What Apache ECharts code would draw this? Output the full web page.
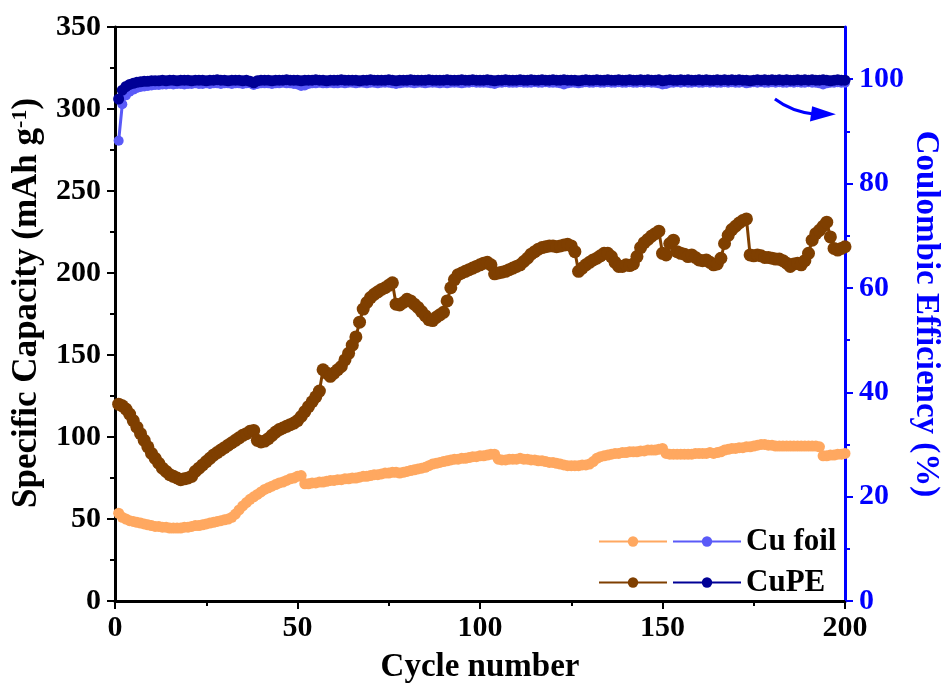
<!DOCTYPE html>
<html>
<head>
<meta charset="utf-8">
<script src="https://cdn.jsdelivr.net/npm/echarts@6/dist/echarts.min.js"></script>
<style>
  html, body { margin: 0; padding: 0; background: #ffffff; }
  #chart { width: 945px; height: 685px; }
</style>
</head>
<body>
<div id="chart"></div>
<script>
// Axis ticks
const xTicks = [0, 50, 100, 150, 200];
const capTicks = [0, 50, 100, 150, 200, 250, 300, 350];
const ceTicks = [0, 20, 40, 60, 80, 100];

// Specific capacity (mAh g-1), cycles 1..200
const cuFoilCapacity = [
  53.5, 51, 50, 49, 48.5, 48, 47.5, 47, 46.5, 46,
  45.5, 45.5, 45, 45, 44.5, 44.5, 44.5, 44.5, 45, 45,
  45.5, 46, 46, 46.5, 47, 47.5, 48, 48.5, 49, 49.5,
  50, 51, 53, 55.5, 58, 60, 62, 63.5, 65, 66.5,
  68, 69, 70, 71, 72, 72.5, 73.5, 74.5, 75, 76,
  76.5, 71.5, 71.5, 72, 72, 72.5, 72.5, 73, 73.5, 73.5,
  74, 74, 74.5, 74.5, 75, 75, 75.5, 76, 76, 76.5,
  77, 77, 77.5, 78, 78, 78.5, 78.5, 78, 78.5, 79,
  79.5, 80, 80.5, 81, 81.5, 82.5, 83.5, 84, 84.5, 85,
  85.5, 86, 86.5, 86.5, 87, 87, 87.5, 88, 88, 88.5,
  88.5, 89, 89.5, 89.5, 86.5, 86, 86, 86.5, 86.5, 86.5,
  87, 86.5, 86.5, 86, 86, 85.5, 85.5, 85, 84.5, 84.5,
  84, 83.5, 83, 82.5, 82.5, 82.5, 82.5, 83, 83, 83.5,
  85, 87, 88, 88.5, 89, 89.5, 90, 90, 90.5, 90.5,
  91, 91, 91, 91.5, 91.5, 92, 92, 92, 92.5, 93,
  90, 89.5, 89.5, 89.5, 89.5, 89.5, 89.5, 89.5, 90, 90,
  90, 90, 90.5, 90, 90.5, 91, 92, 92.5, 93, 93,
  93.5, 93.5, 94, 94, 94.5, 95, 95.5, 95.5, 95, 95,
  94.5, 94.5, 94.5, 94.5, 94.5, 94.5, 94.5, 94.5, 94.5, 94.5,
  94.5, 94.5, 94, 88.5, 88.5, 89, 89, 89.5, 89.5, 90
];

const cupeCapacity = [
  120, 119, 117, 114, 110, 106, 102, 98, 94, 90,
  87, 84, 81, 79, 77, 76, 75, 74, 74.5, 75,
  76, 79, 81, 83, 85, 87, 89, 90.5, 92, 93.5,
  95, 96.5, 98, 99.5, 101, 102, 103.5, 104, 98, 97,
  97.5, 99, 101, 103, 104.5, 105.5, 106.5, 107.5, 108.5, 110,
  112.5, 115.5, 118.5, 121.5, 124.5, 128, 141, 139, 137, 139,
  141, 143, 147, 151, 156, 161, 170, 178, 182, 185,
  187, 188.5, 190, 191, 192.5, 194, 181, 180.5, 182, 184,
  183, 181, 179, 176.5, 174, 171.5, 171, 173, 174.5, 176,
  183, 191, 196, 199, 200, 201, 202, 203, 204, 205,
  206, 206.5, 205, 199.5, 200, 200.5, 201, 202, 203, 204,
  205, 207, 209, 211.5, 213, 214.5, 215.5, 216, 216.5, 216.5,
  216, 216.5, 217, 217.5, 216.5, 213, 201, 203, 205, 206.5,
  208, 209, 210.5, 212, 212, 210, 206.5, 204, 204, 205,
  204.5, 205.5, 210, 215.5, 218.5, 220.5, 222.5, 224, 225.5, 212,
  211, 218, 220, 213, 212, 211.5, 210, 211, 209.5, 208,
  207.5, 208, 206.5, 205, 205.5, 209, 218, 223, 226.5, 228.5,
  230.5, 232, 233, 211, 210.5, 211, 210.5, 209.5, 209.5, 209,
  208.5, 208.5, 207.5, 206, 204, 205.5, 206, 205, 207.5, 212,
  220, 224, 226, 228.5, 231, 222, 215, 214, 215, 216
];

// Coulombic efficiency (%), cycles 1..200
const cuFoilCE = [
  88.2, 95.2, 96.9, 97.6, 98.0, 98.3, 98.5, 98.6, 98.7, 98.8,
  98.9, 98.9, 99.0, 99.0, 99.1, 99.0, 99.1, 99.1, 99.0, 99.1,
  99.1, 99.2, 99.1, 99.1, 99.2, 99.1, 99.2, 99.2, 99.1, 99.2,
  99.2, 99.1, 99.2, 99.2, 99.1, 99.2, 99.2, 98.9, 99.1, 99.2,
  99.2, 99.2, 99.1, 99.2, 99.2, 99.3, 99.2, 99.2, 99.1, 99.0,
  98.7, 98.8, 99.1, 99.2, 99.2, 99.3, 99.2, 99.2, 99.3, 99.2,
  99.2, 99.3, 99.2, 99.3, 99.3, 99.2, 99.3, 99.3, 99.2, 99.3,
  99.3, 99.2, 99.3, 99.3, 99.3, 99.2, 99.1, 99.2, 99.3, 99.3,
  99.3, 99.2, 99.3, 99.3, 99.2, 99.3, 99.3, 99.3, 99.2, 99.3,
  99.2, 99.3, 99.3, 99.3, 99.2, 99.3, 99.3, 99.4, 99.3, 99.3,
  99.3, 99.3, 99.2, 99.1, 99.3, 99.3, 99.4, 99.3, 99.3, 99.3,
  99.4, 99.3, 99.3, 99.3, 99.4, 99.3, 99.3, 99.4, 99.3, 99.3,
  99.3, 99.2, 99.0, 99.2, 99.3, 99.3, 99.2, 99.3, 99.4, 99.3,
  99.3, 99.4, 99.3, 99.3, 99.4, 99.3, 99.3, 99.4, 99.3, 99.3,
  99.4, 99.3, 99.3, 99.4, 99.3, 99.4, 99.3, 99.3, 99.2, 99.0,
  99.1, 99.3, 99.3, 99.4, 99.3, 99.4, 99.3, 99.3, 99.4, 99.3,
  99.3, 99.4, 99.3, 99.4, 99.3, 99.3, 99.4, 99.3, 99.4, 99.3,
  99.3, 99.4, 99.2, 99.3, 99.4, 99.3, 99.4, 99.3, 99.3, 99.4,
  99.3, 99.4, 99.3, 99.3, 99.4, 99.3, 99.4, 99.3, 99.3, 99.4,
  99.3, 99.3, 99.2, 99.0, 99.2, 99.3, 99.3, 99.4, 99.3, 99.3
];

const cupeCE = [
  96.2, 97.9, 98.6, 99.0, 99.2, 99.4, 99.5, 99.6, 99.6, 99.7,
  99.7, 99.7, 99.8, 99.7, 99.8, 99.8, 99.7, 99.8, 99.8, 99.8,
  99.7, 99.8, 99.8, 99.8, 99.7, 99.8, 99.8, 99.9, 99.8, 99.8,
  99.7, 99.8, 99.8, 99.8, 99.7, 99.8, 99.6, 99.3, 99.7, 99.8,
  99.8, 99.8, 99.7, 99.8, 99.8, 99.8, 99.9, 99.8, 99.8, 99.8,
  99.7, 99.8, 99.8, 99.8, 99.9, 99.8, 99.8, 99.7, 99.8, 99.8,
  99.8, 99.9, 99.8, 99.8, 99.8, 99.8, 99.7, 99.8, 99.8, 99.9,
  99.8, 99.8, 99.8, 99.8, 99.9, 99.8, 99.7, 99.8, 99.8, 99.8,
  99.9, 99.8, 99.8, 99.8, 99.8, 99.9, 99.8, 99.8, 99.8, 99.8,
  99.9, 99.8, 99.8, 99.8, 99.9, 99.8, 99.8, 99.9, 99.8, 99.8,
  99.8, 99.9, 99.8, 99.7, 99.8, 99.8, 99.9, 99.8, 99.8, 99.8,
  99.9, 99.8, 99.8, 99.9, 99.8, 99.8, 99.9, 99.8, 99.8, 99.9,
  99.8, 99.8, 99.9, 99.8, 99.8, 99.8, 99.7, 99.8, 99.9, 99.8,
  99.8, 99.9, 99.8, 99.8, 99.9, 99.8, 99.8, 99.9, 99.8, 99.8,
  99.9, 99.8, 99.8, 99.9, 99.8, 99.9, 99.8, 99.8, 99.9, 99.7,
  99.8, 99.9, 99.8, 99.8, 99.9, 99.8, 99.9, 99.8, 99.8, 99.9,
  99.8, 99.9, 99.8, 99.8, 99.9, 99.8, 99.9, 99.8, 99.9, 99.8,
  99.9, 99.8, 99.8, 99.7, 99.8, 99.9, 99.8, 99.9, 99.8, 99.9,
  99.8, 99.9, 99.8, 99.9, 99.8, 99.8, 99.9, 99.8, 99.9, 99.8,
  99.9, 99.8, 99.8, 99.9, 99.8, 99.7, 99.8, 99.9, 99.8, 99.8
];

// Curved arrow pointing from the efficiency curves to the right-hand axis, in [cycle, CE %]
const arrowShaft = [[180.8, 96.2], [185.5, 93.7], [191.8, 93.3]];
const arrowHead = [[191.0, 94.8], [197.5, 93.3], [190.4, 91.9]];

const FONT = '"Liberation Serif", "Times New Roman", serif';
const BLUE = '#0000FF';
const COLORS = {
  cuFoilCap: '#FFA860',
  cupeCap: '#7F3F00',
  cuFoilCE: '#5A5AF8',
  cupeCE: '#000096'
};

const pairs = vals => vals.map((v, i) => [i + 1, v]);

function lineSeries(name, values, color, yIndex, size, z) {
  return {
    name: name,
    type: 'line',
    yAxisIndex: yIndex,
    data: pairs(values),
    symbol: 'circle',
    symbolSize: size,
    showSymbol: true,
    showAllSymbol: true,
    itemStyle: { color: color },
    lineStyle: { color: color, width: 3 },
    z: z,
    animation: false
  };
}

const chart = echarts.init(document.getElementById('chart'), null, { renderer: 'canvas' });

const option = {
  backgroundColor: '#ffffff',
  animation: false,
  textStyle: { fontFamily: FONT },
  grid: {
    left: 115, right: 100, top: 27, bottom: 84,
    containLabel: false,
    outerBoundsMode: 'none',
    show: true, borderColor: '#000', borderWidth: 2, backgroundColor: 'transparent'
  },
  xAxis: {
    type: 'value',
    min: xTicks[0], max: xTicks[xTicks.length - 1], interval: 50,
    name: 'Cycle number',
    nameLocation: 'middle',
    nameGap: 50,
    nameTextStyle: { fontFamily: FONT, fontWeight: 'bold', fontSize: 33, color: '#000' },
    axisLine: { show: true, onZero: false, lineStyle: { color: '#000', width: 3 } },
    axisTick: { show: true, inside: false, length: 8, lineStyle: { color: '#000', width: 2 } },
    minorTick: { show: true, splitNumber: 2, length: 5, lineStyle: { color: '#000', width: 2 } },
    axisLabel: { fontFamily: FONT, fontWeight: 'bold', fontSize: 30, color: '#000', margin: 12 },
    splitLine: { show: false }
  },
  yAxis: [
    {
      type: 'value',
      position: 'left',
      min: capTicks[0], max: capTicks[capTicks.length - 1], interval: 50,
      name: 'Specific Capacity (mAh g{sup|-1})',
      nameLocation: 'middle',
      nameGap: 66,
      nameTextStyle: {
        fontFamily: FONT, fontWeight: 'bold', fontSize: 35, color: '#000',
        padding: [0, 0, 0, 22],
        rich: {
          sup: { fontFamily: FONT, fontWeight: 'bold', fontSize: 22, color: '#000', verticalAlign: 'top', lineHeight: 23, padding: [0, 0, 14, 0] }
        }
      },
      axisLine: { show: true, onZero: false, lineStyle: { color: '#000', width: 3 } },
      axisTick: { show: true, inside: false, length: 8, lineStyle: { color: '#000', width: 2 } },
      minorTick: { show: true, splitNumber: 2, length: 5, lineStyle: { color: '#000', width: 2 } },
      axisLabel: { fontFamily: FONT, fontWeight: 'bold', fontSize: 30, color: '#000', margin: 14 },
      splitLine: { show: false }
    },
    {
      type: 'value',
      position: 'right',
      min: 0, max: 110, interval: 20,
      name: 'Coulombic Efficiency (%)',
      nameLocation: 'middle',
      nameGap: 64,
      nameRotate: -90,
      nameMoveOverlap: false,
      nameTextStyle: { fontFamily: FONT, fontWeight: 'bold', fontSize: 33, color: BLUE },
      axisLine: { show: true, onZero: false, lineStyle: { color: BLUE, width: 3 } },
      axisTick: { show: true, inside: false, length: 8, customValues: ceTicks, lineStyle: { color: BLUE, width: 2 } },
      minorTick: { show: true, splitNumber: 2, length: 5, lineStyle: { color: BLUE, width: 2 } },
      axisLabel: { fontFamily: FONT, fontWeight: 'bold', fontSize: 30, color: BLUE, margin: 14, customValues: ceTicks },
      splitLine: { show: false }
    }
  ],
  legend: [
    {
      orient: 'vertical',
      left: 598, top: 526, padding: 0,
      itemWidth: 68, itemHeight: 13, itemGap: 10,
      selectedMode: false,
      data: ['Cu foil capacity', 'CuPE capacity'],
      formatter: () => ' ',
      textStyle: { fontFamily: FONT, fontWeight: 'bold', fontSize: 31, lineHeight: 30, color: '#000' }
    },
    {
      orient: 'vertical',
      left: 672, top: 526, padding: 0,
      itemWidth: 68, itemHeight: 13, itemGap: 10,
      selectedMode: false,
      data: ['Cu foil CE', 'CuPE CE'],
      formatter: name => name.replace(' CE', ''),
      textStyle: { fontFamily: FONT, fontWeight: 'bold', fontSize: 31, lineHeight: 30, color: '#000' }
    }
  ],
  series: [
    lineSeries('Cu foil capacity', cuFoilCapacity, COLORS.cuFoilCap, 0, 11, 2),
    lineSeries('CuPE capacity', cupeCapacity, COLORS.cupeCap, 0, 13, 3),
    lineSeries('Cu foil CE', cuFoilCE, COLORS.cuFoilCE, 1, 10, 4),
    lineSeries('CuPE CE', cupeCE, COLORS.cupeCE, 1, 11, 5)
  ]
};

chart.setOption(option);

// Annotation arrow, placed through the efficiency axis
const toPx = p => chart.convertToPixel({ xAxisIndex: 0, yAxisIndex: 1 }, p);
const s = arrowShaft.map(toPx);
const h = arrowHead.map(toPx);
chart.setOption({
  graphic: [
    {
      type: 'bezierCurve',
      shape: { x1: s[0][0], y1: s[0][1], cpx1: s[1][0], cpy1: s[1][1], x2: s[2][0], y2: s[2][1] },
      style: { stroke: BLUE, lineWidth: 3, fill: null },
      z: 10
    },
    {
      type: 'polygon',
      shape: { points: h },
      style: { fill: BLUE, stroke: null },
      z: 10
    }
  ]
});
</script>
</body>
</html>
